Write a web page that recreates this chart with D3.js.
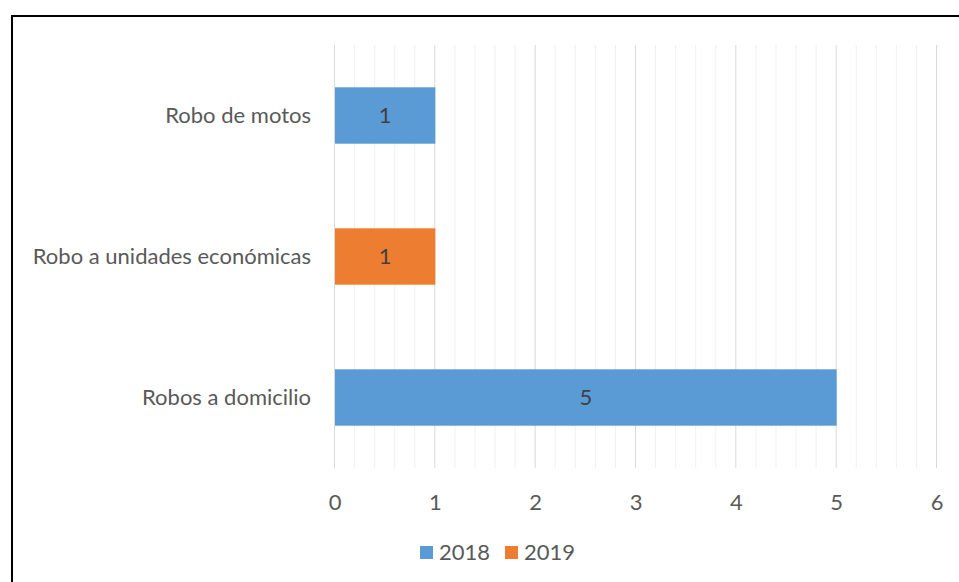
<!DOCTYPE html>
<html lang="es">
<head>
<meta charset="UTF-8">
<title>Robos</title>
<script src="https://d3js.org/d3.v7.min.js"></script>
<style>
    body { margin: 0; background: #fff; }
    svg { display: block; font-family: Lato, "Open Sans", sans-serif; }
</style>
</head>
<body>
<div id="chart"></div>
<script>
    // data, in the order shown top to bottom
    const categories = ['Robo de motos', 'Robo a unidades económicas', 'Robos a domicilio'];
    const seriesNames = ['2018', '2019'];
    const values2018 = [1, 0, 5];
    const values2019 = [0, 1, 0];
    const xTicks = [0, 1, 2, 3, 4, 5, 6];
    const colors = ['#5B9BD5', '#ED7D31'];

    const width = 959, height = 582;
    const margin = { top: 45, right: 23, bottom: 114, left: 334 };
    const fontSize = 22;

    const svg = d3.select('#chart').append('svg')
        .attr('width', width)
        .attr('height', height);

    // frame around the chart (runs off the right and bottom edge)
    svg.append('rect')
        .attr('x', 12).attr('y', 16)
        .attr('width', 960).attr('height', 600)
        .attr('fill', 'none')
        .attr('stroke', '#000')
        .attr('stroke-width', 2);

    const x = d3.scaleLinear()
        .domain([0, 6])
        .range([margin.left, margin.left + 602]);

    const y = d3.scaleBand()
        .domain(categories)
        .range([margin.top, height - margin.bottom])
        .paddingInner(0.6)
        .paddingOuter(0.3);

    // minor gridlines
    svg.append('g')
        .selectAll('line')
        .data(d3.range(0, 30).map(i => i / 5).filter(v => v % 1 !== 0))
        .join('line')
        .attr('x1', d => x(d) + 0.5).attr('x2', d => x(d) + 0.5)
        .attr('y1', margin.top).attr('y2', height - margin.bottom)
        .attr('stroke', '#f0f0f0');

    // major gridlines
    svg.append('g')
        .selectAll('line')
        .data(xTicks)
        .join('line')
        .attr('x1', d => x(d) + 0.5).attr('x2', d => x(d) + 0.5)
        .attr('y1', margin.top).attr('y2', height - margin.bottom)
        .attr('stroke', '#d9d9d9');

    // stacked bars
    const rows = categories.map((c, i) => ({ cat: c, '2018': values2018[i], '2019': values2019[i] }));
    const stacked = d3.stack().keys(seriesNames)(rows);

    stacked.forEach((layer, si) => {
        const g = svg.append('g');
        g.selectAll('rect')
            .data(layer.filter(d => d[1] > d[0]))
            .join('rect')
            .attr('x', d => x(d[0]) + 1)
            .attr('y', d => y(d.data.cat))
            .attr('width', d => x(d[1]) - x(d[0]))
            .attr('height', y.bandwidth())
            .attr('fill', colors[si]);
        g.selectAll('text')
            .data(layer.filter(d => d[1] > d[0]))
            .join('text')
            .attr('x', d => (x(d[0]) + x(d[1])) / 2 + 1)
            .attr('y', d => y(d.data.cat) + y.bandwidth() / 2)
            .attr('dy', '0.35em')
            .attr('text-anchor', 'middle')
            .attr('fill', '#404040')
            .attr('font-size', fontSize)
            .text(d => d[1] - d[0]);
    });

    // category labels
    const yAxis = svg.append('g')
        .attr('transform', `translate(${margin.left - 23},0)`)
        .call(d3.axisLeft(y).tickSize(0).tickPadding(0));
    yAxis.select('.domain').remove();
    yAxis.selectAll('text')
        .attr('fill', '#595959')
        .attr('font-size', fontSize)
        .attr('font-family', 'Lato, "Open Sans", sans-serif');

    // value axis labels
    const xAxis = svg.append('g')
        .attr('transform', `translate(0.5,${height - margin.bottom})`)
        .call(d3.axisBottom(x).tickValues(xTicks).tickFormat(d3.format('d')).tickSize(0).tickPadding(26));
    xAxis.select('.domain').remove();
    xAxis.selectAll('text')
        .attr('fill', '#595959')
        .attr('font-size', fontSize)
        .attr('font-family', 'Lato, "Open Sans", sans-serif');

    // legend
    const legend = svg.append('g').attr('transform', 'translate(420,546)');
    const item = legend.selectAll('g')
        .data(seriesNames)
        .join('g')
        .attr('transform', (d, i) => `translate(${i * 85},0)`);
    item.append('rect')
        .attr('width', 13).attr('height', 13)
        .attr('fill', (d, i) => colors[i]);
    item.append('text')
        .attr('x', 19).attr('y', 6.5)
        .attr('dy', '0.35em')
        .attr('fill', '#595959')
        .attr('font-size', fontSize)
        .text(d => d);
</script>
</body>
</html>
